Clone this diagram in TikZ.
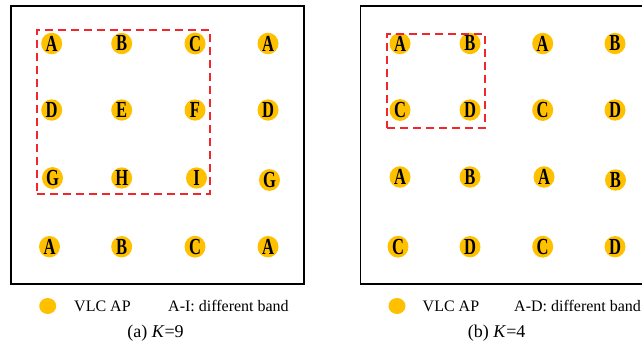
\documentclass[tikz,border=0pt]{standalone}
\usepackage{fontspec}
\usetikzlibrary{shapes.geometric}
\setmainfont{Liberation Serif}
\definecolor{apyellow}{HTML}{FFC000}
\definecolor{bandred}{HTML}{F0282D}
\begin{document}
\begin{tikzpicture}[x=1pt,y=-1pt,
  ap/.style={ellipse, fill=apyellow, minimum width=21pt, minimum height=19pt, inner sep=0pt,
    font=\fontsize{23}{23}\selectfont\bfseries},
  frame/.style={draw=black, line width=1.6pt},
  cluster/.style={draw=bandred, line width=1.8pt, dash pattern=on 8pt off 5pt},
  legendtxt/.style={font=\fontsize{16}{17}\selectfont, anchor=west, inner sep=0pt},
  captxt/.style={font=\fontsize{18}{19}\selectfont, inner sep=0pt}
]
\useasboundingbox (0,0) rectangle (642,348);
\clip (0,0) rectangle (642,348);
\newcommand{\apnode}[4]{\node[ap] (#1) at (#2,#3) {\scalebox{0.72}[1]{#4}};}
% ---------- (a) ----------
\node[frame, rectangle, minimum width=293pt, minimum height=278pt, anchor=north west, inner sep=0pt] (boxa) at (10,5) {};
\apnode{a11}{51.7}{43.5}{A}
\apnode{a12}{121.7}{43.5}{B}
\apnode{a13}{195}{43.5}{C}
\apnode{a14}{268}{43.5}{A}
\apnode{a21}{51.7}{110}{D}
\apnode{a22}{121.7}{110}{E}
\apnode{a23}{195}{110}{F}
\apnode{a24}{268}{110}{D}
\apnode{a31}{52.5}{178}{G}
\apnode{a32}{121.7}{178}{H}
\apnode{a33}{196.5}{178}{I}
\apnode{a34}{269.5}{180}{G}
\apnode{a41}{49.5}{246.7}{A}
\apnode{a42}{121.7}{246.7}{B}
\apnode{a43}{195}{246.7}{C}
\apnode{a44}{268}{246.7}{A}
\node[cluster, rectangle, minimum width=173pt, minimum height=164pt, anchor=north west, inner sep=0pt] (clua) at (36,29) {};
\node[ap, minimum width=17pt, minimum height=16pt] (lega) at (47.7,306) {};
\node[legendtxt] (lta) at (74,306) {VLC AP};
\node[legendtxt] (ltb) at (168,306) {A-I: different band};
\node[captxt] (capa) at (155.5,333) {(a) \textit{K}=9};
% ---------- (b) ----------
\node[frame, rectangle, minimum width=300pt, minimum height=278pt, anchor=north west, inner sep=0pt] (boxb) at (359.5,5) {};
\apnode{b11}{400}{43.5}{A}
\apnode{b12}{470}{43.5}{B}
\apnode{b13}{542.7}{43.5}{A}
\apnode{b14}{615}{43.5}{B}
\apnode{b21}{400}{110}{C}
\apnode{b22}{470}{110}{D}
\apnode{b23}{542.7}{110}{C}
\apnode{b24}{615}{110}{D}
\apnode{b31}{400}{177}{A}
\apnode{b32}{470}{177}{B}
\apnode{b33}{544}{177}{A}
\apnode{b34}{615.5}{180}{B}
\apnode{b41}{398}{246.7}{C}
\apnode{b42}{470}{246.7}{D}
\apnode{b43}{542.7}{246.7}{C}
\apnode{b44}{615}{246.7}{D}
\node[cluster, rectangle, minimum width=98pt, minimum height=94pt, anchor=north west, inner sep=0pt] (club) at (386,33) {};
\node[ap, minimum width=17pt, minimum height=16pt] (legb) at (397,306) {};
\node[legendtxt] (ltc) at (422.5,306) {VLC AP};
\node[legendtxt] (ltd) at (514,306) {A-D: different band};
\node[captxt] (capb) at (496.7,333) {(b) \textit{K}=4};
\end{tikzpicture}
\end{document}
